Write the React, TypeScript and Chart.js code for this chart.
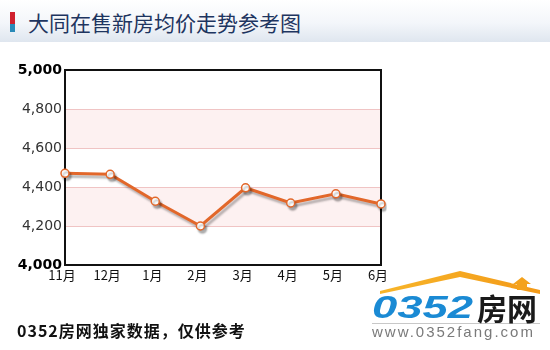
import React, { useEffect, useRef } from "react";
import { Chart, registerables } from "chart.js";

Chart.register(...registerables);

const months = ["11月", "12月", "1月", "2月", "3月", "4月", "5月", "6月"];
const prices = [4470, 4465, 4327, 4200, 4396, 4318, 4365, 4313];
const yTicks = [4000, 4200, 4400, 4600, 4800, 5000];
const bands: [number, number][] = [
  [4600, 4800],
  [4200, 4400],
];
const titleText = "大同在售新房均价走势参考图";
const footerText = "0352房网独家数据，仅供参考";

const bandPlugin = {
  id: "bands",
  beforeDraw(chart: any) {
    const { ctx, chartArea, scales } = chart;
    const y = scales.y;
    ctx.save();
    ctx.fillStyle = "#fdf1f1";
    for (const [a, b] of bands) {
      const top = y.getPixelForValue(b);
      const bot = y.getPixelForValue(a);
      ctx.fillRect(chartArea.left, top, chartArea.right - chartArea.left, bot - top);
    }
    ctx.restore();
  },
  beforeDatasetsDraw(chart: any) {
    const { ctx, chartArea } = chart;
    ctx.save();
    ctx.strokeStyle = "#111";
    ctx.lineWidth = 2;
    ctx.strokeRect(chartArea.left, chartArea.top, chartArea.right - chartArea.left, chartArea.bottom - chartArea.top);
    ctx.restore();
  },
};

const shadowPlugin = {
  id: "lineShadow",
  beforeDatasetDraw(chart: any) {
    const ctx = chart.ctx;
    ctx.save();
    ctx.shadowColor = "rgba(0,0,0,0.28)";
    ctx.shadowOffsetX = 2;
    ctx.shadowOffsetY = 3;
    ctx.shadowBlur = 2;
  },
  afterDatasetDraw(chart: any) {
    chart.ctx.restore();
  },
};

export default function App() {
  const ref = useRef<HTMLCanvasElement | null>(null);

  useEffect(() => {
    if (!ref.current) return;
    const chart = new Chart(ref.current, {
      type: "line",
      data: {
        labels: months,
        datasets: [
          {
            data: prices,
            borderColor: "#e2672a",
            borderWidth: 3,
            pointRadius: 4,
            pointBackgroundColor: "#ffffff",
            pointBorderColor: "#e2672a",
            pointBorderWidth: 1.5,
            tension: 0,
          },
        ],
      },
      options: {
        animation: false,
        responsive: false,
        maintainAspectRatio: false,
        layout: { padding: { left: 0, right: 169, top: 70, bottom: 65 } },
        plugins: { legend: { display: false }, tooltip: { enabled: false } },
        scales: {
          x: {
            offset: false,
            grid: { display: false, drawTicks: false },
            border: { display: false },
            ticks: {
              padding: 2,
              labelOffset: -3,
              color: "#111",
              font: { family: "Noto Sans CJK SC", size: 13 },
              maxRotation: 0,
            },
            afterFit(scale: any) {
              scale.height = 20;
            },
          },
          y: {
            min: yTicks[0],
            max: yTicks[yTicks.length - 1],
            afterBuildTicks(scale: any) {
              scale.ticks = yTicks.map((v) => ({ value: v }));
            },
            grid: { color: "#f0c4c4", lineWidth: 1, drawTicks: false },
            border: { display: false },
            ticks: {
              padding: 3,
              callback: (v: any) => Number(v).toLocaleString("en-US"),
              color: (c: any) =>
                c.tick && (c.tick.value === 4000 || c.tick.value === 5000) ? "#000" : "#333",
              font: (c: any) => ({
                family: "DejaVu Sans",
                size: 14,
                weight:
                  c.tick && (c.tick.value === 4000 || c.tick.value === 5000) ? "bold" : "normal",
              }),
            },
            afterFit(scale: any) {
              scale.width = 65;
            },
          },
        },
      },
      plugins: [bandPlugin, shadowPlugin],
    });
    return () => chart.destroy();
  }, []);

  return (
    <div
      style={{
        position: "fixed",
        left: 0,
        top: 0,
        width: 550,
        height: 350,
        background: "#fff",
        overflow: "hidden",
      }}
    >
      <div
        style={{
          position: "absolute",
          left: 0,
          top: 0,
          width: 550,
          height: 42,
          background: "linear-gradient(#ffffff, #f3f6fa 55%, #dfe6ef)",
        }}
      />
      <div style={{ position: "absolute", left: 10, top: 12, width: 5, height: 12, background: "#d0202e" }} />
      <div style={{ position: "absolute", left: 10, top: 24, width: 5, height: 8, background: "#2a8ab8" }} />
      <div
        style={{
          position: "absolute",
          left: 28,
          top: 8,
          fontFamily: "Noto Sans CJK SC",
          fontSize: 21,
          lineHeight: "28px",
          color: "#1e3560",
          whiteSpace: "nowrap",
        }}
      >
        {titleText}
      </div>
      <canvas ref={ref} width={550} height={350} style={{ position: "absolute", left: 0, top: 0 }} />
      <div
        style={{
          position: "absolute",
          left: 17,
          top: 319,
          fontFamily: "Noto Sans CJK SC",
          fontWeight: "bold",
          fontSize: 16,
          letterSpacing: 1,
          lineHeight: "22px",
          color: "#111",
          whiteSpace: "nowrap",
        }}
      >
        {footerText}
      </div>
      <svg width={550} height={350} style={{ position: "absolute", left: 0, top: 0 }}>
        <defs>
          <linearGradient id="roof" x1="0" x2="1" y1="0" y2="0">
            <stop offset="0" stopColor="#f7b52a" />
            <stop offset="1" stopColor="#f39a18" />
          </linearGradient>
        </defs>
        <polygon points="380,291 460,271 540,290 540,294 460,277 380,294" fill="url(#roof)" />
        <polygon points="522,277 531,284 527,284 527,290 517,290 517,284 513,284" fill="#f4a21c" />
        <line x1={372} y1={323.5} x2={540} y2={323.5} stroke="#c8c8c8" strokeWidth={1} />
      </svg>
      <div
        style={{
          position: "absolute",
          left: 372,
          top: 290,
          fontFamily: "Liberation Sans",
          fontStyle: "italic",
          fontWeight: "bold",
          fontSize: 32,
          lineHeight: "34px",
          color: "#1a8ad4",
          transform: "scaleX(1.42)",
          transformOrigin: "left top",
          whiteSpace: "nowrap",
        }}
      >
        0352
      </div>
      <div
        style={{
          position: "absolute",
          left: 477,
          top: 289,
          fontFamily: "Noto Sans CJK SC",
          fontWeight: "bold",
          fontSize: 30,
          lineHeight: "36px",
          color: "#1a1a1a",
          whiteSpace: "nowrap",
        }}
      >
        房网
      </div>
      <div
        style={{
          position: "absolute",
          left: 372,
          top: 323,
          fontFamily: "Liberation Sans",
          fontSize: 15,
          letterSpacing: 2,
          lineHeight: "17px",
          color: "#7a7a7a",
          whiteSpace: "nowrap",
        }}
      >
        www.0352fang.com
      </div>
    </div>
  );
}
